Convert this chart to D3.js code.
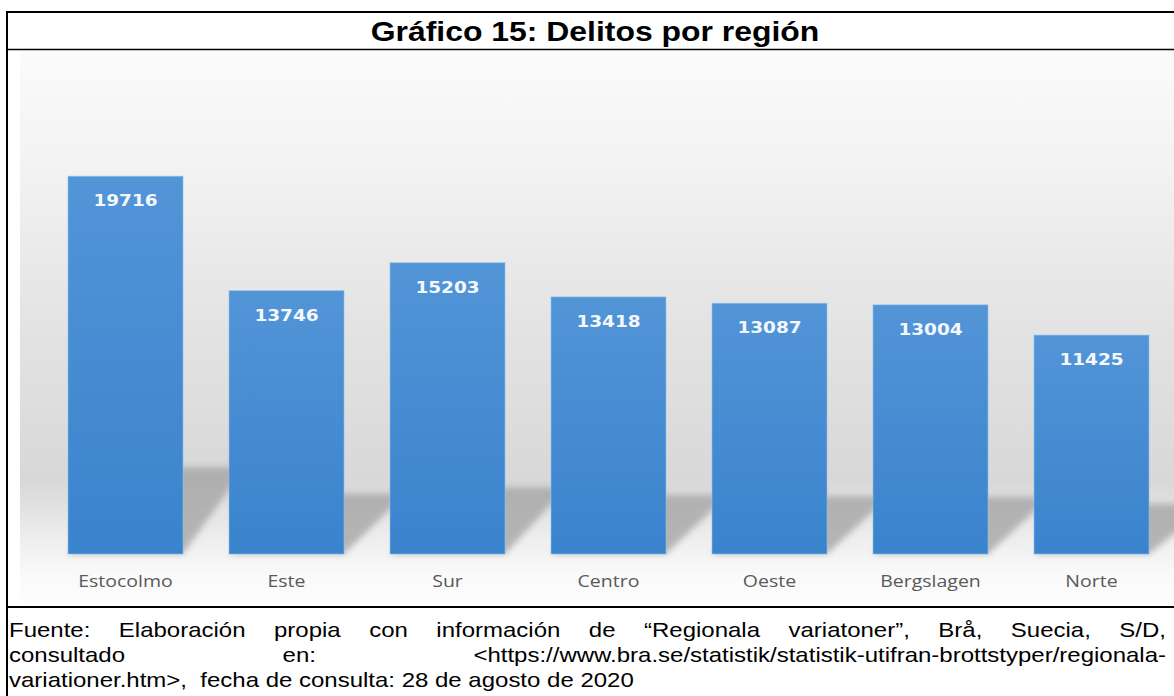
<!DOCTYPE html>
<html>
<head>
<meta charset="utf-8">
<script src="https://cdn.jsdelivr.net/npm/d3@7"></script>
<style>
  body { margin: 0; background: #fff; }
  svg { display: block; }
</style>
</head>
<body>
<svg width="1174" height="696"></svg>
<script>
var regiones = ['Estocolmo', 'Este', 'Sur', 'Centro', 'Oeste', 'Bergslagen', 'Norte'];
var delitos = [19716, 13746, 15203, 13418, 13087, 13004, 11425];
var titulo = 'Gráfico 15: Delitos por región';
var fuente = [
  'Fuente: Elaboración propia con información de “Regionala variatoner”, Brå, Suecia, S/D,',
  'consultado en: <https://www.bra.se/statistik/statistik-utifran-brottstyper/regionala-',
  'variationer.htm>,  fecha de consulta: 28 de agosto de 2020'
];

var svg = d3.select('svg');
var svgWidth = +svg.attr('width');
var svgHeight = +svg.attr('height');
// the original picture is a bit stretched sideways
var stretch = 1.2;

var dataset = regiones.map(function(r, i) { return {region: r, value: delitos[i]}; });

var defs = svg.append('defs');
var bg = defs.append('linearGradient').attr('id', 'bg')
    .attr('x1', 0).attr('y1', 0).attr('x2', 0).attr('y2', 1);
[[0, '#fbfbfb'], [0.2, '#f3f3f3'], [0.5, '#e3e3e3'], [0.78, '#d8d8d8'], [0.88, '#ededed'], [0.95, '#fafafa'], [1, '#fcfcfc']]
  .forEach(function(s) { bg.append('stop').attr('offset', s[0]).attr('stop-color', s[1]); });

var barGrad = defs.append('linearGradient').attr('id', 'barGrad')
    .attr('x1', 0).attr('y1', 0).attr('x2', 0).attr('y2', 1);
barGrad.append('stop').attr('offset', 0).attr('stop-color', '#5295d7');
barGrad.append('stop').attr('offset', 1).attr('stop-color', '#3a83cd');

defs.append('filter').attr('id', 'blur')
  .attr('x', '-20%').attr('y', '-20%').attr('width', '140%').attr('height', '140%')
  .append('feGaussianBlur').attr('stdDeviation', 3);

// chart background
svg.append('rect')
  .attr('x', 20).attr('y', 51).attr('width', svgWidth - 20).attr('height', 552)
  .attr('fill', 'url(#bg)');

// frame lines
var frame = svg.append('g').attr('stroke', '#000');
frame.append('line').attr('x1', 6).attr('x2', svgWidth).attr('y1', 12).attr('y2', 12).attr('stroke-width', 2);
frame.append('line').attr('x1', 6).attr('x2', svgWidth).attr('y1', 49.5).attr('y2', 49.5).attr('stroke-width', 1.5);
frame.append('line').attr('x1', 6).attr('x2', svgWidth).attr('y1', 607).attr('y2', 607).attr('stroke-width', 2);
frame.append('line').attr('x1', 7).attr('x2', 7).attr('y1', 11).attr('y2', svgHeight).attr('stroke-width', 2);

// title
svg.append('text')
  .attr('transform', 'translate(595,41) scale(1.14,1)')
  .attr('text-anchor', 'middle')
  .style('font-family', '"Liberation Sans", Arial, sans-serif')
  .style('font-weight', 'bold')
  .style('font-size', '28px')
  .text(titulo);

// scales
var xScale = d3.scaleBand().domain(regiones).range([68, 1149]).paddingInner(0.2857).paddingOuter(0);
var yScale = d3.scaleLinear().domain([0, 25000]).range([554, 75]);

var chartG = svg.append('g');

// floor shadows
chartG.selectAll('path.shadow')
  .data(dataset)
  .enter()
  .append('path')
  .attr('class', 'shadow')
  .attr('fill', '#a6a6a6')
  .attr('opacity', 0.8)
  .attr('filter', 'url(#blur)')
  .attr('d', function(d) {
    var x0 = xScale(d.region), x1 = x0 + xScale.bandwidth();
    var base = yScale(0);
    var top = base - (base - yScale(d.value)) * 0.23;
    var dx = 62;
    return 'M' + [x0, base] + 'L' + [x1, base] + 'L' + [x1 + dx, top] + 'L' + [x0 + dx, top] + 'Z';
  });

// bars
chartG.selectAll('rect.bar')
  .data(dataset)
  .enter()
  .append('rect')
  .attr('class', 'bar')
  .attr('x', function(d) { return xScale(d.region); })
  .attr('y', function(d) { return yScale(d.value); })
  .attr('width', xScale.bandwidth())
  .attr('height', function(d) { return yScale(0) - yScale(d.value); })
  .attr('fill', 'url(#barGrad)')
  .attr('stroke', '#8fc0ee')
  .attr('stroke-opacity', 0.6)
  .attr('stroke-width', 1);

// value labels
chartG.selectAll('text.value')
  .data(dataset)
  .enter()
  .append('text')
  .attr('class', 'value')
  .attr('transform', function(d) {
    return 'translate(' + (xScale(d.region) + xScale.bandwidth() / 2) + ',' + (yScale(d.value) + 30) + ') scale(1.12,1)';
  })
  .attr('text-anchor', 'middle')
  .attr('fill', '#f4f8fc')
  .style('font-family', '"DejaVu Sans", sans-serif')
  .style('font-weight', 'bold')
  .style('font-size', '16.5px')
  .text(function(d) { return d.value; });

// category axis
var xAxis = d3.axisBottom(xScale).tickSize(0).tickPadding(0);
var axisG = chartG.append('g')
  .attr('transform', 'translate(0,587)')
  .call(xAxis);
axisG.select('.domain').remove();
axisG.selectAll('text')
  .attr('fill', '#595959')
  .attr('y', 0)
  .attr('dy', 0)
  .attr('transform', 'scale(1.22,1)')
  .style('font-family', '"Open Sans", "DejaVu Sans", sans-serif')
  .style('font-size', '16px');

// source note, justified like the original
var noteG = svg.append('g')
  .attr('transform', 'scale(' + stretch + ',1)')
  .style('font-family', '"Liberation Sans", Arial, sans-serif')
  .style('font-size', '20px')
  .attr('fill', '#000');
var left = 9 / stretch, right = 1166 / stretch;
fuente.forEach(function(line, i) {
  var y = 637 + i * 25;
  if (i === fuente.length - 1) {
    noteG.append('text').attr('x', left).attr('y', y).attr('xml:space', 'preserve').text(line);
    return;
  }
  var words = line.split(' ');
  var widths = words.map(function(w) {
    var t = noteG.append('text').text(w);
    var wd = t.node().getComputedTextLength();
    t.remove();
    return wd;
  });
  var total = d3.sum(widths);
  var gap = (right - left - total) / (words.length - 1);
  var x = left;
  words.forEach(function(w, j) {
    noteG.append('text').attr('x', x).attr('y', y).text(w);
    x += widths[j] + gap;
  });
});
</script>
</body>
</html>
